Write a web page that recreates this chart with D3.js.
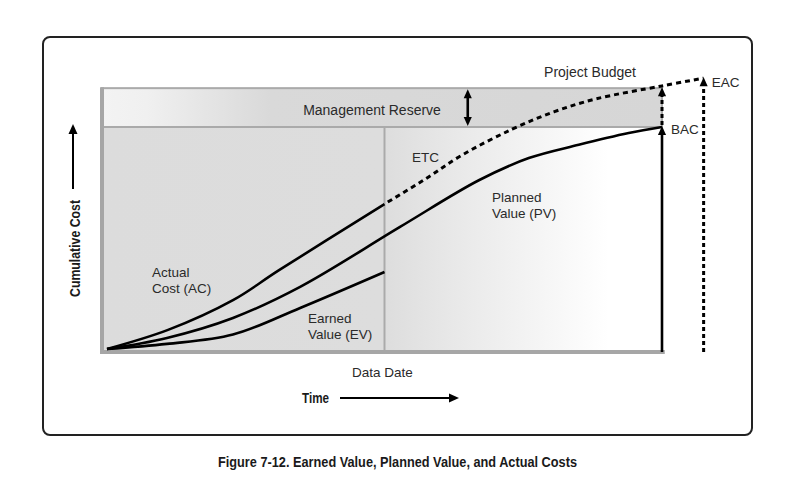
<!DOCTYPE html>
<html>
<head>
<meta charset="utf-8">
<script src="https://cdn.jsdelivr.net/npm/d3@7"></script>
<style>
  body { margin: 0; background: #fff; }
  text { font-family: "Liberation Sans", Arial, sans-serif; fill: #2a2a2a; }
  .bold { font-family: "Liberation Sans Narrow", "Arial Narrow", "Liberation Sans", sans-serif; font-weight: bold; fill: #1a1a1a; }
</style>
</head>
<body>
<div id="wrapper"></div>
<script>
// values (time 0..100 = start..BAC date, cost 0..100 = BAC)
const acData = [[0, 0], [11, 8.6], [22.7, 22], [31, 35.5], [50, 65.3]];
const pvData = [[0, 0], [10.8, 5], [22.7, 14], [34.8, 28], [52.8, 55], [67, 76], [76, 86], [85, 92], [94, 97.3], [100, 100]];
const evData = [[0, 0], [10.8, 2.3], [22.7, 6.5], [34.8, 18.5], [50, 34.7]];
const etcData = [[50, 65.3], [57, 76], [64, 87.4], [73, 99], [80.5, 106.8], [88, 112.6], [100, 118.5], [107.5, 122]];

const dataDate = 50;
const bac = 100;
const budget = 117.5;
const eac = 122;
const eacTime = 107.5;
const reserveTime = 65;

function drawChart() {

    const width = 800;
    const height = 496;

    const svg = d3.select("#wrapper")
                    .append("svg")
                        .attr("width", width)
                        .attr("height", height);

    const xScale = d3.scaleLinear().domain([0, 100]).range([107, 662]);
    const yScale = d3.scaleLinear().domain([0, 100]).range([349, 127]);

    const left = xScale(-0.9);
    const right = xScale(100.5);
    const bottom = yScale(-1.35);
    const top = yScale(budget);

    // outer frame
    svg.append("rect")
        .attr("x", 43).attr("y", 37)
        .attr("width", 709).attr("height", 398)
        .attr("rx", 7)
        .attr("fill", "none")
        .attr("stroke", "#222")
        .attr("stroke-width", 2);

    // gradients
    const defs = svg.append("defs");
    const mainGrad = defs.append("linearGradient")
        .attr("id", "mainGrad")
        .attr("gradientUnits", "userSpaceOnUse")
        .attr("x1", left).attr("x2", right).attr("y1", 0).attr("y2", 0);
    const ddFrac = (xScale(dataDate) - left) / (right - left);
    mainGrad.append("stop").attr("offset", 0).attr("stop-color", "#dcdcdc");
    mainGrad.append("stop").attr("offset", ddFrac).attr("stop-color", "#dddddd");
    mainGrad.append("stop").attr("offset", ddFrac + 0.12).attr("stop-color", "#e8e8e8");
    mainGrad.append("stop").attr("offset", 0.9).attr("stop-color", "#ffffff");
    mainGrad.append("stop").attr("offset", 1).attr("stop-color", "#ffffff");

    const bandGrad = defs.append("linearGradient")
        .attr("id", "bandGrad")
        .attr("gradientUnits", "userSpaceOnUse")
        .attr("x1", left).attr("x2", xScale(100)).attr("y1", 0).attr("y2", 0);
    bandGrad.append("stop").attr("offset", 0).attr("stop-color", "#f3f3f3");
    bandGrad.append("stop").attr("offset", 0.08).attr("stop-color", "#f0f0f0");
    bandGrad.append("stop").attr("offset", 0.3).attr("stop-color", "#d9d9d9");
    bandGrad.append("stop").attr("offset", 1).attr("stop-color", "#d6d6d6");

    // shaded areas
    svg.append("rect")
        .attr("x", left).attr("y", top)
        .attr("width", xScale(100) - left).attr("height", yScale(bac) - top)
        .attr("fill", "url(#bandGrad)")
        .attr("stroke", "#aaa")
        .attr("stroke-width", 2);

    svg.append("rect")
        .attr("x", left).attr("y", yScale(bac))
        .attr("width", xScale(100) - left).attr("height", bottom - yScale(bac))
        .attr("fill", "url(#mainGrad)");

    // borders: divider, data date, axes
    svg.append("line")
        .attr("x1", left).attr("x2", xScale(100))
        .attr("y1", yScale(bac)).attr("y2", yScale(bac))
        .attr("stroke", "#aaa").attr("stroke-width", 2);

    svg.append("line")
        .attr("x1", xScale(dataDate)).attr("x2", xScale(dataDate))
        .attr("y1", yScale(bac)).attr("y2", bottom)
        .attr("stroke", "#aaa").attr("stroke-width", 2);

    svg.append("line")
        .attr("x1", left).attr("x2", left)
        .attr("y1", top - 1).attr("y2", bottom + 2)
        .attr("stroke", "#a6a6a6").attr("stroke-width", 4);

    svg.append("line")
        .attr("x1", left - 2).attr("x2", right)
        .attr("y1", bottom).attr("y2", bottom)
        .attr("stroke", "#a6a6a6").attr("stroke-width", 4);

    // curves
    const line = d3.line()
        .x(d => xScale(d[0]))
        .y(d => yScale(d[1]))
        .curve(d3.curveCatmullRom.alpha(0.5));

    const curves = [acData, pvData, evData];
    svg.append("g")
        .selectAll("path")
        .data(curves)
        .join("path")
            .attr("d", line)
            .attr("fill", "none")
            .attr("stroke", "#000")
            .attr("stroke-width", 2.6)
            .attr("stroke-linejoin", "round");

    svg.append("path")
        .attr("d", line(etcData))
        .attr("fill", "none")
        .attr("stroke", "#000")
        .attr("stroke-width", 3)
        .attr("stroke-dasharray", "5 4")
        .attr("stroke-dashoffset", -4);

    // arrow helpers
    const head = (px, py, dir, size = 9) => {
        const w = size * 0.45;
        let pts;
        if (dir === "up") pts = [[px, py], [px - w, py + size], [px + w, py + size]];
        if (dir === "down") pts = [[px, py], [px - w, py - size], [px + w, py - size]];
        if (dir === "right") pts = [[px, py], [px - size, py - w], [px - size, py + w]];
        svg.append("path")
            .attr("d", "M" + pts.map(p => p.join(",")).join("L") + "Z")
            .attr("fill", "#000");
    };

    const vline = (px, y1, y2, dashed) => {
        svg.append("line")
            .attr("x1", px).attr("x2", px)
            .attr("y1", y1).attr("y2", y2)
            .attr("stroke", "#000")
            .attr("stroke-width", dashed ? 3 : 2.6)
            .attr("stroke-dasharray", dashed ? "4 3" : null);
    };

    // BAC
    vline(xScale(100), bottom, yScale(bac) + 6, false);
    head(xScale(100), yScale(bac) - 1, "up");
    // budget arrow above BAC
    vline(xScale(100), yScale(bac) - 2, yScale(budget) + 6, true);
    head(xScale(100), yScale(budget) - 1, "up");
    // EAC
    vline(xScale(eacTime), bottom, yScale(eac) + 6, true);
    head(xScale(eacTime), yScale(eac) - 1, "up");

    // management reserve double arrow
    vline(xScale(reserveTime), yScale(budget) + 6, yScale(bac) - 6, false);
    head(xScale(reserveTime), yScale(budget) + 1, "up");
    head(xScale(reserveTime), yScale(bac) - 1, "down");

    // axis arrows
    svg.append("line")
        .attr("x1", 73).attr("x2", 73)
        .attr("y1", 189).attr("y2", 133)
        .attr("stroke", "#000").attr("stroke-width", 2);
    head(73, 124, "up", 10);

    svg.append("line")
        .attr("x1", 340).attr("x2", 450)
        .attr("y1", 398).attr("y2", 398)
        .attr("stroke", "#000").attr("stroke-width", 2);
    head(459, 398, "right", 10);

    // labels
    const label = (tx, ty, lines, anchor = "start", size = 13) => {
        const t = svg.append("text")
            .attr("x", tx).attr("y", ty)
            .attr("text-anchor", anchor)
            .style("font-size", size + "px");
        lines.forEach((s, i) => {
            t.append("tspan")
                .attr("x", tx)
                .attr("dy", i === 0 ? 0 : 15.5)
                .text(s);
        });
    };

    label(372, 115, ["Management Reserve"], "middle", 14);
    label(590, 77, ["Project Budget"], "middle", 14);
    label(412, 162, ["ETC"], "start", 13.5);
    label(492, 202, ["Planned", "Value (PV)"], "start", 13.5);
    label(152, 277, ["Actual", "Cost (AC)"], "start", 13.5);
    label(308, 323, ["Earned", "Value (EV)"], "start", 13.5);
    label(xScale(bac) + 9, 134, ["BAC"], "start", 13.5);
    label(xScale(eacTime) + 8, 87, ["EAC"], "start", 13.5);
    label(xScale(dataDate) - 2, 377, ["Data Date"], "middle", 13.5);

    svg.append("text")
        .attr("class", "bold")
        .attr("x", 302).attr("y", 403)
        .attr("textLength", 27)
        .attr("lengthAdjust", "spacingAndGlyphs")
        .style("font-size", "15px")
        .text("Time");

    svg.append("text")
        .attr("class", "bold")
        .attr("transform", "translate(80,297) rotate(-90)")
        .attr("textLength", 97)
        .attr("lengthAdjust", "spacingAndGlyphs")
        .style("font-size", "15px")
        .text("Cumulative Cost");

    svg.append("text")
        .attr("class", "bold")
        .attr("x", 218).attr("y", 467)
        .attr("textLength", 359)
        .attr("lengthAdjust", "spacingAndGlyphs")
        .style("font-size", "15px")
        .text("Figure 7-12. Earned Value, Planned Value, and Actual Costs");
}

drawChart();
</script>
</body>
</html>
